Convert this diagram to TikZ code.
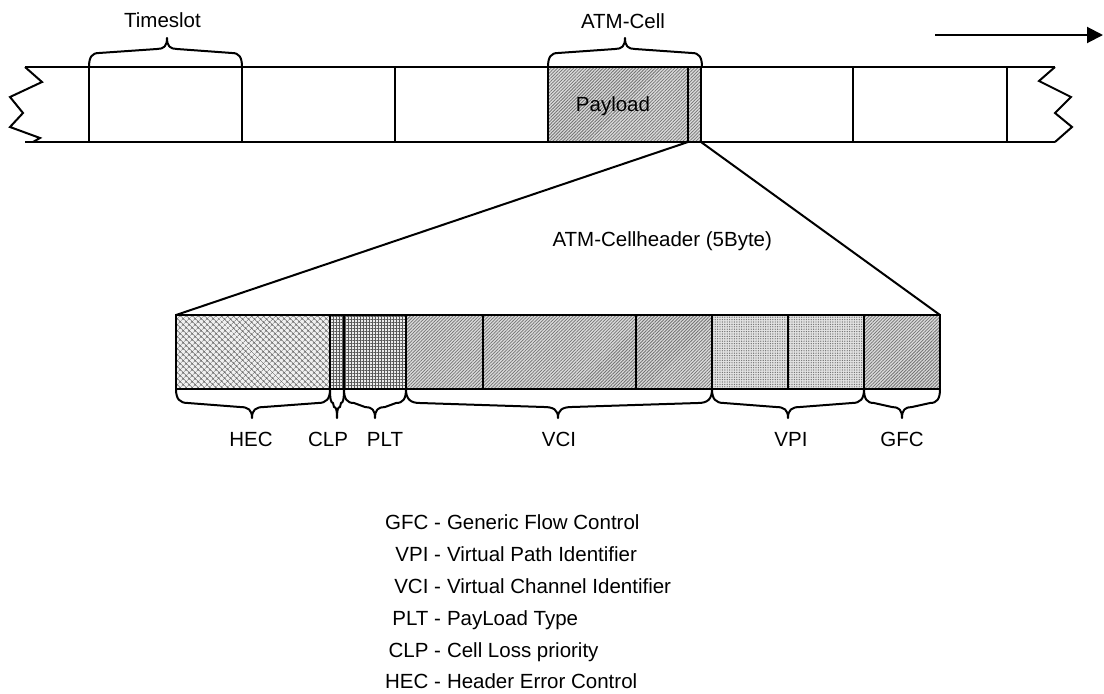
\documentclass[tikz,border=0pt]{standalone}
\usepackage{fontspec}
\setmainfont{Liberation Sans}
\usetikzlibrary{patterns.meta,arrows.meta}
\tikzset{
  ln/.style={line width=2pt, line join=miter},
  cellT/.style={draw, line width=2pt, minimum height=75pt, inner sep=0pt, outer sep=0pt, anchor=north west},
  cellB/.style={draw, line width=2.4pt, minimum height=74pt, inner sep=0pt, outer sep=0pt, anchor=north west},
  diag/.style={preaction={fill=gray!28}, pattern={Lines[angle=45,distance=2.3pt,line width=0.75pt]}, pattern color=black!55},
  cross/.style={preaction={fill=gray!12}, pattern={Hatch[angle=45,distance=4pt,line width=0.6pt]}, pattern color=black!60},
  brick/.style={preaction={fill=gray!15}, pattern={Hatch[angle=0,distance=3pt,line width=0.6pt]}, pattern color=black!65},
  dotted/.style={preaction={fill=gray!22}, pattern={Dots[distance=2.4pt,radius=0.7pt]}, pattern color=black!55},
  brace/.style={line width=2pt, line join=round},
  lbl/.style={inner sep=0pt, outer sep=0pt, anchor=base, font=\fontsize{20.5}{24}\selectfont}
}
\newcommand\mybrace[6]{% a, b, tip, y0, sign, r
  \draw[brace] (#1,#4) .. controls (#1,{#4+#5*10}) and ({#1+0.3*#6},{#4+#5*14}) .. ({#1+#6},{#4+#5*14})
    -- ({#3-#6},{#4+#5*18}) .. controls ({#3-0.3*#6},{#4+#5*18}) and (#3,{#4+#5*21}) .. (#3,{#4+#5*29})
    .. controls (#3,{#4+#5*21}) and ({#3+0.3*#6},{#4+#5*18}) .. ({#3+#6},{#4+#5*18})
    -- ({#2-#6},{#4+#5*14}) .. controls ({#2-0.3*#6},{#4+#5*14}) and (#2,{#4+#5*10}) .. (#2,#4);}
\begin{document}
\begin{tikzpicture}[x=1pt,y=-1pt]
\useasboundingbox (0,0) rectangle (1104,694);

% top strip outline with torn ends
\draw[ln] (25,67) -- (1055,67);
\draw[ln] (25,142) -- (1055,142);
\draw[ln] (25,67) -- (42,82) -- (10,97) -- (23,113) -- (10,127) -- (40,138) -- (33,142);
\draw[ln] (1055,67) -- (1039,81) -- (1071,97) -- (1055,113) -- (1072,127) -- (1055,142);

% top strip cells
\node[cellT, minimum width=153pt] (ts1) at (89,67) {};
\node[cellT, minimum width=153pt] (ts2) at (242,67) {};
\node[cellT, minimum width=153pt] (ts3) at (395,67) {};
\node[cellT, diag, line width=2.6pt, minimum width=140pt] (payload) at (548,67) {};
\node[cellT, diag, minimum width=13pt] (hdr) at (688,67) {};
\node[cellT, minimum width=152pt] (ts5) at (701,67) {};
\node[cellT, minimum width=154pt] (ts6) at (853,67) {};
\node[lbl] (payloadtxt) at (613,111) {Payload};

% top braces and labels
\mybrace{89}{242}{167}{67}{-1}{10}
\node[lbl] (timeslot) at (162.5,27) {Timeslot};
\mybrace{548}{702}{625}{67}{-1}{10}
\node[lbl] (atmcell) at (623,28) {ATM-Cell};

% direction arrow
\coordinate (arrS) at (935,35);
\coordinate (arrE) at (1103,35);
\draw[line width=2pt, -{Triangle[length=16pt,width=16pt]}] (arrS) -- (arrE);

% lower strip (cell header)
\node[cellB, cross, minimum width=154pt] (hec) at (176,315) {};
\node[cellB, brick, minimum width=14pt] (clp) at (330,315) {};
\node[cellB, brick, minimum width=62pt] (plt) at (344,315) {};
\node[cellB, diag, minimum width=77pt] (vci1) at (406,315) {};
\node[cellB, diag, minimum width=153pt] (vci2) at (483,315) {};
\node[cellB, diag, minimum width=76pt] (vci3) at (636,315) {};
\node[cellB, dotted, minimum width=76pt] (vpi1) at (712,315) {};
\node[cellB, dotted, minimum width=76pt] (vpi2) at (788,315) {};
\node[cellB, diag, minimum width=76pt] (gfc) at (864,315) {};

% zoom lines
\draw[ln] (hdr.south west) -- (hec.north west);
\draw[ln] (hdr.south east) -- (gfc.north east);

\node[lbl, anchor=base east] (hdrtxt) at (772,246) {ATM-Cellheader (5Byte)};

% lower braces
\mybrace{176}{330}{252}{389}{1}{12}
\mybrace{330}{344}{337}{389}{1}{3}
\mybrace{344}{406}{375}{389}{1}{10}
\mybrace{406}{712}{558}{389}{1}{14}
\mybrace{712}{864}{788}{389}{1}{12}
\mybrace{864}{940}{902}{389}{1}{10}

\node[lbl] (lhec) at (251,446) {HEC};
\node[lbl] (lclp) at (328,446) {CLP};
\node[lbl] (lplt) at (385,446) {PLT};
\node[lbl] (lvci) at (559,446) {VCI};
\node[lbl] (lvpi) at (791,446) {VPI};
\node[lbl] (lgfc) at (902,446) {GFC};

% legend
\node[lbl, anchor=base east] (kgfc) at (441,529) {GFC -};
\node[lbl, anchor=base west] (dgfc) at (447,529) {Generic Flow Control};
\node[lbl, anchor=base east] (kvpi) at (441,561) {VPI -};
\node[lbl, anchor=base west] (dvpi) at (447,561) {Virtual Path Identifier};
\node[lbl, anchor=base east] (kvci) at (441,593) {VCI -};
\node[lbl, anchor=base west] (dvci) at (447,593) {Virtual Channel Identifier};
\node[lbl, anchor=base east] (kplt) at (441,625) {PLT -};
\node[lbl, anchor=base west] (dplt) at (447,625) {PayLoad Type};
\node[lbl, anchor=base east] (kclp) at (441,657) {CLP -};
\node[lbl, anchor=base west] (dclp) at (447,657) {Cell Loss priority};
\node[lbl, anchor=base east] (khec) at (441,688) {HEC -};
\node[lbl, anchor=base west] (dhec) at (447,688) {Header Error Control};
\end{tikzpicture}
\end{document}
